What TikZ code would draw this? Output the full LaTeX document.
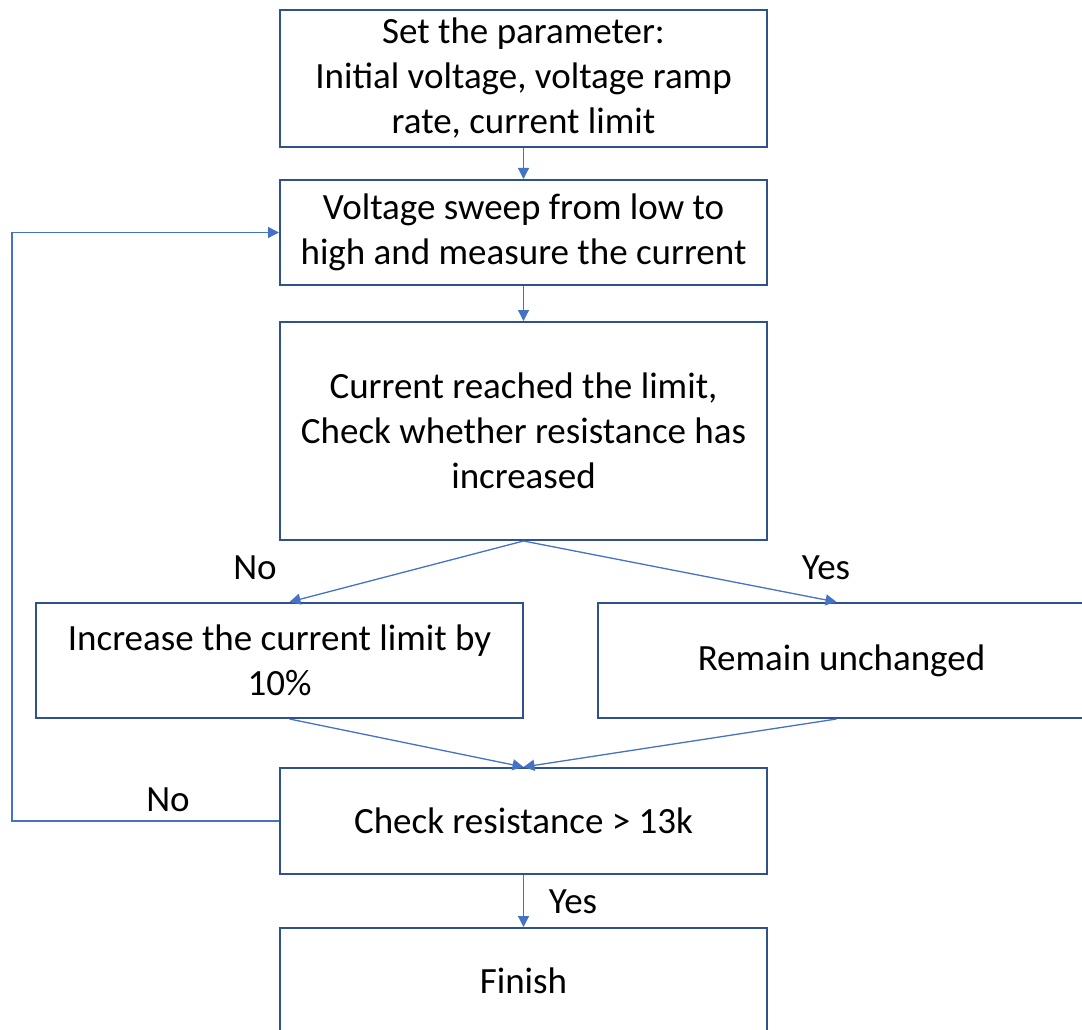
\documentclass[tikz,border=0pt]{standalone}
\usepackage{fontspec}
\setmainfont{Carlito}
\usepackage{tikz}
\usetikzlibrary{arrows.meta}

\definecolor{boxline}{HTML}{2F528F}
\definecolor{arrowline}{HTML}{4472C4}

\tikzset{
    stepbox/.style={draw=boxline, line width=2pt, fill=white, minimum width=487pt,
        align=center, inner sep=0pt, font=\fontsize{37}{45}\selectfont},
    flow/.style={draw=arrowline, line width=1.3pt,
        -{Triangle[length=11pt,width=11pt]}, color=arrowline},
    answer/.style={font=\fontsize{37}{45}\selectfont}
}

\begin{document}
\begin{tikzpicture}[x=1pt,y=-1pt]
    \useasboundingbox (0,0) rectangle (1082,1030);
    \clip (0,0) rectangle (1082,1030);

    \node[stepbox, minimum height=137pt] (param) at (523.5,78.5)
        {Set the parameter:\\Initial voltage, voltage ramp\\rate, current limit};
    \node[stepbox, minimum height=105pt] (sweep) at (523.5,232.5)
        {Voltage sweep from low to\\high and measure the current};
    \node[stepbox, minimum height=218pt] (check) at (523.5,431)
        {Current reached the limit,\\Check whether resistance has\\increased};
    \node[stepbox, minimum height=115pt] (raise) at (279.5,660.5)
        {Increase the current limit by\\10\%};
    \node[stepbox, minimum height=115pt] (keep) at (841.5,660.5)
        {Remain unchanged};
    \node[stepbox, minimum height=106pt] (limit) at (523.5,821)
        {Check resistance > 13k};
    \node[stepbox, minimum height=105pt] (finish) at (523.5,980.5)
        {Finish};

    \draw[flow] (param) -- (sweep);
    \draw[flow] (sweep) -- (check);
    \draw[flow] (check.south) -- ([xshift=10pt]raise.north);
    \draw[flow] (check.south) -- ([xshift=-5pt]keep.north);
    \draw[flow] ([xshift=10pt]raise.south) -- (limit.north);
    \draw[flow] ([xshift=-5pt]keep.south) -- (limit.north);
    \coordinate (loop) at (12,821);
    \draw[flow] (limit.west) -- (loop) |- (sweep.west);
    \draw[flow] (limit) -- (finish);

    \node[answer] (no1) at (255,568) {No};
    \node[answer] (yes1) at (826,568) {Yes};
    \node[answer] (no2) at (168,800) {No};
    \node[answer] (yes2) at (573,902) {Yes};
\end{tikzpicture}
\end{document}
